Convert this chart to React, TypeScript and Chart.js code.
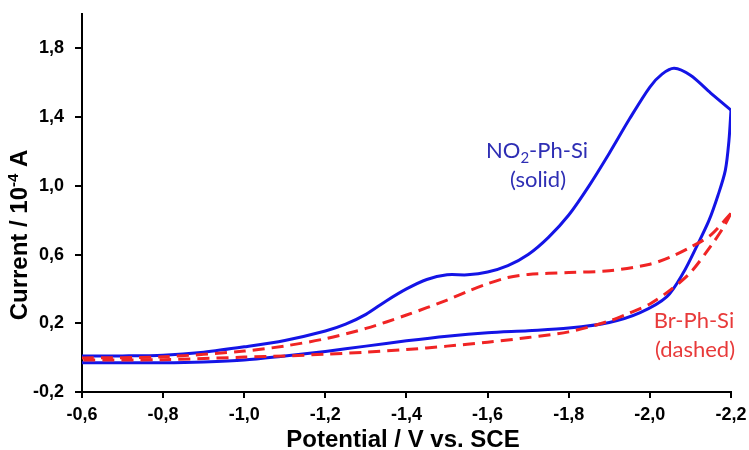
import React, { useEffect, useRef } from "react";
import { Chart, registerables } from "chart.js";

Chart.register(...registerables);

// Potential (V vs. SCE) and current (10^-4 A)
const blueFwdV = [-0.6, -0.7, -0.8, -0.9, -1.0, -1.1, -1.2, -1.25, -1.3, -1.35, -1.4, -1.45, -1.5, -1.55, -1.6, -1.65, -1.7, -1.75, -1.8, -1.85, -1.9, -1.95, -2.0, -2.03, -2.06, -2.1, -2.15, -2.2];
const blueFwdI = [0.01, 0.01, 0.014, 0.032, 0.063, 0.1, 0.155, 0.195, 0.252, 0.33, 0.4, 0.455, 0.482, 0.482, 0.498, 0.535, 0.6, 0.7, 0.83, 1.0, 1.19, 1.39, 1.575, 1.65, 1.684, 1.643, 1.54, 1.44];

const blueRevV = [-2.2, -2.195, -2.186, -2.168, -2.146, -2.117, -2.082, -2.042, -1.976, -1.9, -1.8, -1.7, -1.6, -1.5, -1.4, -1.3, -1.2, -1.1, -1.0, -0.9, -0.8, -0.7, -0.6];
const blueRevI = [1.44, 1.265, 1.09, 0.945, 0.8, 0.655, 0.492, 0.355, 0.262, 0.205, 0.172, 0.157, 0.145, 0.125, 0.098, 0.067, 0.036, 0.01, -0.014, -0.025, -0.03, -0.03, -0.03];

const redFwdV = [-0.6, -0.8, -1.0, -1.1, -1.2, -1.3, -1.4, -1.5, -1.55, -1.6, -1.65, -1.7, -1.8, -1.9, -2.0, -2.05, -2.1, -2.15, -2.2];
const redFwdI = [-0.002, 0.005, 0.038, 0.068, 0.11, 0.17, 0.248, 0.335, 0.385, 0.43, 0.466, 0.484, 0.495, 0.506, 0.544, 0.585, 0.643, 0.713, 0.84];

const redRevV = [-2.2, -2.18, -2.15, -2.1, -2.05, -2.0, -1.95, -1.9, -1.8, -1.7, -1.6, -1.5, -1.4, -1.3, -1.2, -1.1, -1.0, -0.8, -0.6];
const redRevI = [0.84, 0.753, 0.649, 0.495, 0.393, 0.312, 0.26, 0.213, 0.15, 0.117, 0.09, 0.067, 0.047, 0.032, 0.02, 0.01, 0.003, -0.012, -0.014];

const xTicks = [-0.6, -0.8, -1.0, -1.2, -1.4, -1.6, -1.8, -2.0, -2.2];
const yTicks = [-0.2, 0.2, 0.6, 1.0, 1.4, 1.8];

const xTitle = "Potential / V vs. SCE";
const yTitleMain = "Current / 10";
const yTitleSup = "-4";
const yTitleEnd = " A";
const blueLabel = ["NO", "2", "-Ph-Si", "(solid)"];
const redLabel = ["Br-Ph-Si", "(dashed)"];

const BLUE = "#1414e6";
const RED = "#f02424";
const BLUE_TEXT = "#2e2eb4";
const RED_TEXT = "#e83a3a";

const toPts = (xs: number[], ys: number[]) => xs.map((x, i) => ({ x, y: ys[i] }));
const fmt = (v: number) => v.toFixed(1).replace(".", ",");

const AXIS_FONT = '"Liberation Sans", Arial, sans-serif';
const NOTE_FONT = 'Lato, "Open Sans", sans-serif';

const textPlugin = {
  id: "texts",
  afterDraw(chart: any) {
    const ctx = chart.ctx as CanvasRenderingContext2D;
    ctx.save();
    // X title
    ctx.fillStyle = "#000";
    ctx.font = `bold 24px ${AXIS_FONT}`;
    ctx.textAlign = "center";
    ctx.textBaseline = "alphabetic";
    ctx.fillText(xTitle, 403, 447);

    // Y title (rotated)
    ctx.save();
    ctx.translate(27, 235);
    ctx.rotate(-Math.PI / 2);
    ctx.textAlign = "left";
    ctx.font = `bold 24px ${AXIS_FONT}`;
    const w1 = ctx.measureText(yTitleMain).width;
    const w3 = ctx.measureText(yTitleEnd).width;
    ctx.font = `bold 15px ${AXIS_FONT}`;
    const w2 = ctx.measureText(yTitleSup).width;
    const total = w1 + w2 + w3;
    let x0 = -total / 2;
    ctx.font = `bold 24px ${AXIS_FONT}`;
    ctx.fillText(yTitleMain, x0, 0);
    x0 += w1;
    ctx.font = `bold 15px ${AXIS_FONT}`;
    ctx.fillText(yTitleSup, x0, -9);
    x0 += w2;
    ctx.font = `bold 24px ${AXIS_FONT}`;
    ctx.fillText(yTitleEnd, x0, 0);
    ctx.restore();

    // Blue annotation
    ctx.fillStyle = BLUE_TEXT;
    ctx.textAlign = "left";
    ctx.font = `22px ${NOTE_FONT}`;
    const a = ctx.measureText(blueLabel[0]).width;
    const c = ctx.measureText(blueLabel[2]).width;
    ctx.font = `15px ${NOTE_FONT}`;
    const b = ctx.measureText(blueLabel[1]).width;
    let bx = 537 - (a + b + c) / 2;
    ctx.font = `22px ${NOTE_FONT}`;
    ctx.fillText(blueLabel[0], bx, 158);
    bx += a;
    ctx.font = `15px ${NOTE_FONT}`;
    ctx.fillText(blueLabel[1], bx, 163);
    bx += b;
    ctx.font = `22px ${NOTE_FONT}`;
    ctx.fillText(blueLabel[2], bx, 158);
    ctx.textAlign = "center";
    ctx.fillText(blueLabel[3], 538, 187);

    // Red annotation
    ctx.fillStyle = RED_TEXT;
    ctx.fillText(redLabel[0], 694, 328);
    ctx.fillText(redLabel[1], 695, 357);
    ctx.restore();
  },
};

export default function App() {
  const ref = useRef<HTMLCanvasElement | null>(null);

  useEffect(() => {
    if (!ref.current) return;
    const common = { pointRadius: 0, borderWidth: 3, tension: 0.3, fill: false };
    const chart = new Chart(ref.current, {
      type: "line",
      data: {
        datasets: [
          { ...common, data: toPts(redFwdV, redFwdI), borderColor: RED, borderDash: [12, 7] },
          { ...common, data: toPts(redRevV, redRevI), borderColor: RED, borderDash: [12, 7] },
          { ...common, data: toPts(blueFwdV, blueFwdI), borderColor: BLUE },
          { ...common, data: toPts(blueRevV, blueRevI), borderColor: BLUE },
        ] as any,
      },
      options: {
        animation: false,
        responsive: false,
        layout: { padding: { top: 14, right: 18, left: 0, bottom: 0 } },
        plugins: { legend: { display: false }, tooltip: { enabled: false } },
        scales: {
          x: {
            type: "linear",
            reverse: true,
            min: -2.2,
            max: -0.6,
            afterBuildTicks: (s: any) => {
              s.ticks = xTicks.map((v) => ({ value: v }));
            },
            afterFit: (s: any) => {
              s.height = 58;
              s.paddingLeft = 0;
              s.paddingRight = 0;
            },
            grid: { display: true, drawOnChartArea: false, drawTicks: true, tickLength: 6, color: "#000", lineWidth: 2 },
            border: { display: true, color: "#000", width: 2 },
            ticks: {
              callback: (v: any) => fmt(Number(v)),
              font: { family: AXIS_FONT, size: 18, weight: "bold" },
              color: "#000",
              padding: 6,
              maxRotation: 0,
              autoSkip: false,
            },
          },
          y: {
            type: "linear",
            min: -0.2,
            max: 2.0,
            afterBuildTicks: (s: any) => {
              s.ticks = yTicks.map((v) => ({ value: v }));
            },
            afterFit: (s: any) => {
              s.width = 82;
              s.paddingTop = 0;
              s.paddingBottom = 0;
            },
            grid: { display: true, drawOnChartArea: false, drawTicks: true, tickLength: 7, color: "#000", lineWidth: 2 },
            border: { display: true, color: "#000", width: 2 },
            ticks: {
              callback: (v: any) => fmt(Number(v)),
              font: { family: AXIS_FONT, size: 18, weight: "bold" },
              color: "#000",
              padding: 11,
              autoSkip: false,
            },
          },
        },
      } as any,
      plugins: [textPlugin],
    });
    return () => chart.destroy();
  }, []);

  return (
    <div style={{ position: "fixed", left: 0, top: 0, width: 749, height: 450, background: "#fff" }}>
      <canvas ref={ref} width={749} height={450} style={{ width: 749, height: 450 }} />
    </div>
  );
}
